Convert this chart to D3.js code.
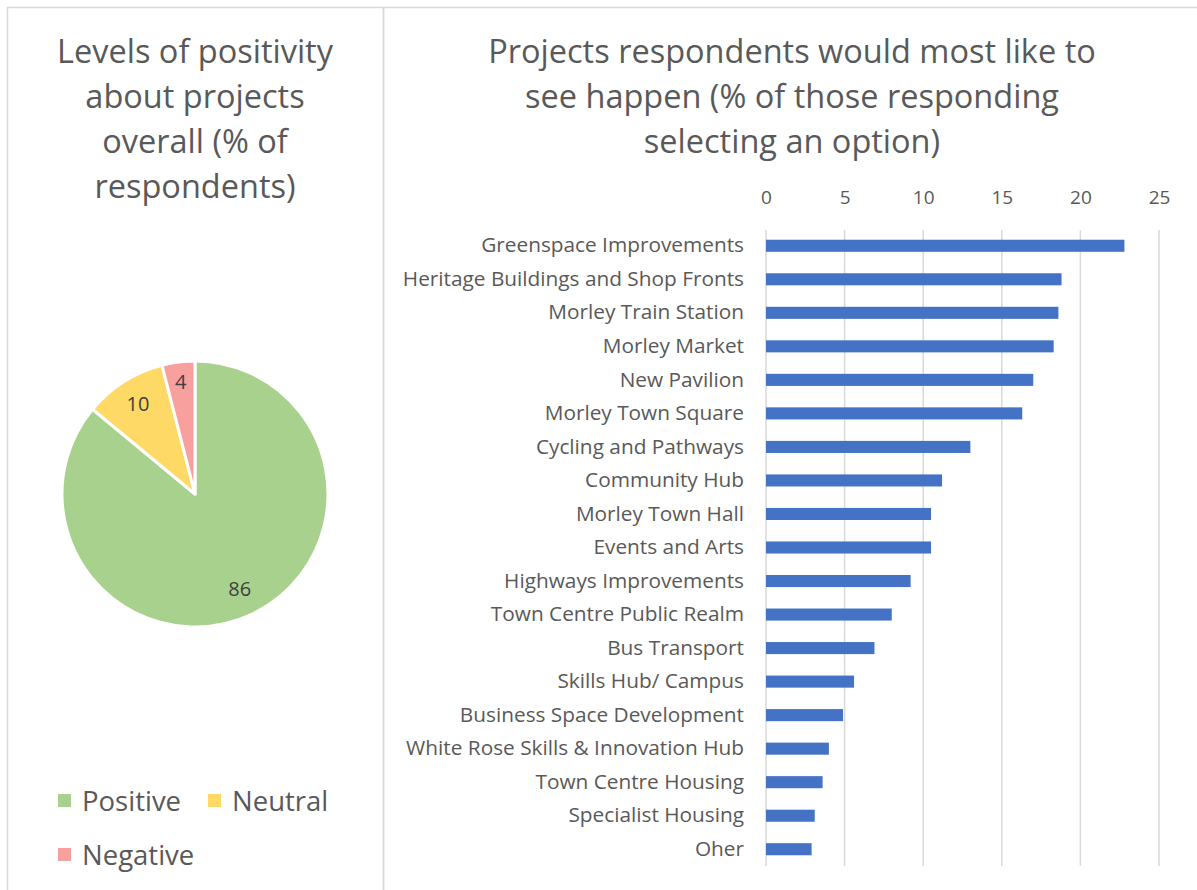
<!DOCTYPE html>
<html>
<head>
<meta charset="utf-8">
<script src="https://cdn.jsdelivr.net/npm/d3@7"></script>
<style>
  html, body { margin: 0; padding: 0; background: #fff; }
  svg { display: block; }
  text { font-family: "Open Sans", "Noto Sans", sans-serif; }
</style>
</head>
<body>
<svg id="chart" width="1197" height="890"></svg>
<script>
// Overall sentiment (% of respondents)
const sentimentLabels = ["Positive", "Neutral", "Negative"];
const sentimentValues = [86, 10, 4];
const sentimentColors = ["#A9D18E", "#FFD966", "#F8A09E"];

// Preferred projects (% of those responding selecting an option)
const projects = [
  "Greenspace Improvements",
  "Heritage Buildings and Shop Fronts",
  "Morley Train Station",
  "Morley Market",
  "New Pavilion",
  "Morley Town Square",
  "Cycling and Pathways",
  "Community Hub",
  "Morley Town Hall",
  "Events and Arts",
  "Highways Improvements",
  "Town Centre Public Realm",
  "Bus Transport",
  "Skills Hub/ Campus",
  "Business Space Development",
  "White Rose Skills & Innovation Hub",
  "Town Centre Housing",
  "Specialist Housing",
  "Oher"
];
const projectValues = [22.8, 18.8, 18.6, 18.3, 17.0, 16.3, 13.0, 11.2, 10.5, 10.5, 9.2, 8.0, 6.9, 5.6, 4.9, 4.0, 3.6, 3.1, 2.9];
const xTicks = [0, 5, 10, 15, 20, 25];

const svg = d3.select("#chart");
const textColor = "#595959";

// Panel frames
svg.append("rect").attr("x", 7.5).attr("y", 7.5).attr("width", 376).attr("height", 900)
  .attr("fill", "none").attr("stroke", "#D9D9D9").attr("stroke-width", 1.5);
svg.append("rect").attr("x", 383.5).attr("y", 7.5).attr("width", 830).attr("height", 900)
  .attr("fill", "none").attr("stroke", "#D9D9D9").attr("stroke-width", 1.5);

// ---------- Left panel: pie ----------
const leftTitle = ["Levels of positivity", "about projects", "overall (% of", "respondents)"];
svg.append("g").selectAll("text").data(leftTitle).join("text")
  .attr("x", 195).attr("y", (d, i) => 63 + i * 45)
  .attr("text-anchor", "middle").attr("font-size", 32.5).attr("fill", textColor)
  .text(d => d);

const pieData = sentimentLabels.map((l, i) => ({ label: l, value: sentimentValues[i], color: sentimentColors[i] }));
const pie = d3.pie().value(d => d.value).sort(null);
const arcs = pie(pieData);
const radius = 133;
const arc = d3.arc().innerRadius(0).outerRadius(radius);
const pieG = svg.append("g").attr("transform", "translate(195,494)");
pieG.selectAll("path").data(arcs).join("path")
  .attr("d", arc).attr("fill", d => d.data.color)
  .attr("stroke", "#fff").attr("stroke-width", 3).attr("stroke-linejoin", "round");

// Value labels placed along each slice's mid-angle
const labelRadii = [0.79, 0.8, 0.85];
pieG.selectAll("text").data(arcs).join("text")
  .attr("transform", (d, i) => {
    const r = radius * labelRadii[i];
    const c = d3.arc().innerRadius(r).outerRadius(r).centroid(d);
    return `translate(${c[0]},${c[1]})`;
  })
  .attr("text-anchor", "middle").attr("dy", "0.35em")
  .attr("font-size", 20).attr("fill", "#404040")
  .text(d => d.data.value);

// Legend
const legendPos = [[58, 801], [208, 801], [58, 855]];
const legend = svg.append("g").selectAll("g").data(pieData).join("g")
  .attr("transform", (d, i) => `translate(${legendPos[i][0]},${legendPos[i][1]})`);
legend.append("rect").attr("x", 0).attr("y", -7).attr("width", 13).attr("height", 13).attr("fill", d => d.color);
legend.append("text").attr("x", 24).attr("y", 0).attr("dy", "0.35em")
  .attr("font-size", 27.5).attr("fill", textColor).text(d => d.label);

// ---------- Right panel: horizontal bars ----------
const rightTitle = ["Projects respondents would most like to", "see happen (% of those responding", "selecting an option)"];
svg.append("g").selectAll("text").data(rightTitle).join("text")
  .attr("x", 792).attr("y", (d, i) => 63 + i * 45)
  .attr("text-anchor", "middle").attr("font-size", 32.5).attr("fill", textColor)
  .text(d => d);

const x = d3.scaleLinear().domain([0, 25]).range([766, 1159]);
const y = d3.scaleBand().domain(projects).range([229, 866]).paddingInner(0.64).paddingOuter(0.32);

// Gridlines
svg.append("g").selectAll("line").data(xTicks).join("line")
  .attr("x1", d => x(d)).attr("x2", d => x(d)).attr("y1", 230).attr("y2", 866)
  .attr("stroke", "#D9D9D9").attr("stroke-width", 1.5);

// Top axis labels
const xAxis = svg.append("g").attr("transform", "translate(0,197)")
  .call(d3.axisTop(x).tickValues(xTicks).tickSize(0).tickPadding(0));
xAxis.select(".domain").remove();
xAxis.selectAll("text").attr("font-size", 19).attr("fill", textColor)
  .attr("font-family", "'Open Sans', 'Noto Sans', sans-serif").attr("dy", "0.35em");

// Bars
svg.append("g").selectAll("rect").data(projects).join("rect")
  .attr("x", x(0)).attr("y", d => y(d))
  .attr("width", (d, i) => x(projectValues[i]) - x(0))
  .attr("height", y.bandwidth()).attr("fill", "#4472C4");

// Category labels
const yAxis = svg.append("g").attr("transform", "translate(766,0)")
  .call(d3.axisLeft(y).tickSize(0).tickPadding(22));
yAxis.select(".domain").remove();
yAxis.selectAll("text").attr("font-size", 20.8).attr("fill", textColor)
  .attr("font-family", "'Open Sans', 'Noto Sans', sans-serif");
</script>
</body>
</html>
